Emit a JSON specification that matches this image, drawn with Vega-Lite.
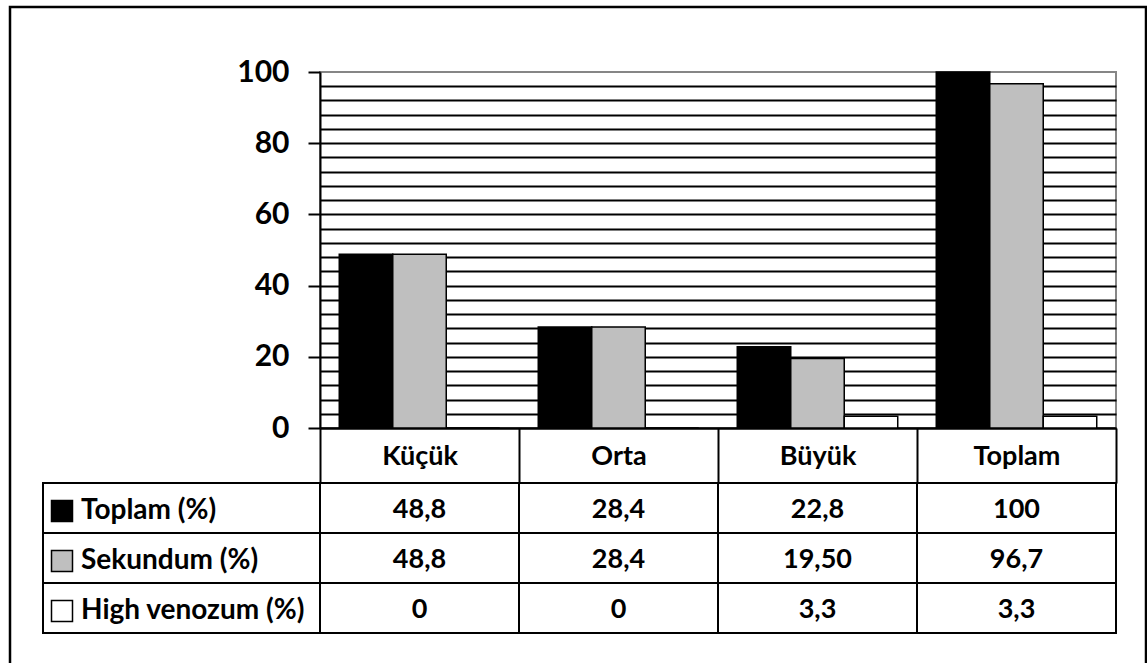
{
  "$schema": "https://vega.github.io/schema/vega-lite/v6.json",
  "padding": {"left": 8, "top": 5, "right": 0, "bottom": -6},
  "columns": 2,
  "spacing": {"row": 55, "column": 0},
  "bounds": "flush",
  "datasets": {
    "bars": [
      {"cat": "Küçük", "series": "Toplam (%)", "value": 48.8, "label": "48,8"},
      {"cat": "Küçük", "series": "Sekundum (%)", "value": 48.8, "label": "48,8"},
      {"cat": "Küçük", "series": "High venozum (%)", "value": 0, "label": "0"},
      {"cat": "Orta", "series": "Toplam (%)", "value": 28.4, "label": "28,4"},
      {"cat": "Orta", "series": "Sekundum (%)", "value": 28.4, "label": "28,4"},
      {"cat": "Orta", "series": "High venozum (%)", "value": 0, "label": "0"},
      {"cat": "Büyük", "series": "Toplam (%)", "value": 22.8, "label": "22,8"},
      {"cat": "Büyük", "series": "Sekundum (%)", "value": 19.5, "label": "19,50"},
      {"cat": "Büyük", "series": "High venozum (%)", "value": 3.3, "label": "3,3"},
      {"cat": "Toplam", "series": "Toplam (%)", "value": 100, "label": "100"},
      {"cat": "Toplam", "series": "Sekundum (%)", "value": 96.7, "label": "96,7"},
      {"cat": "Toplam", "series": "High venozum (%)", "value": 3.3, "label": "3,3"}
    ],
    "rows": [
      {"series": "Toplam (%)"},
      {"series": "Sekundum (%)"},
      {"series": "High venozum (%)"}
    ]
  },
  "concat": [
    {
      "width": 277,
      "height": 356,
      "data": {"values": []},
      "mark": "point",
      "encoding": {},
      "view": {"stroke": null}
    },
    {
      "width": 796,
      "height": 356,
      "data": {"name": "bars"},
      "mark": {"type": "bar", "strokeWidth": 1.5},
      "encoding": {
        "x": {
          "field": "cat", "type": "nominal",
          "sort": ["Küçük", "Orta", "Büyük", "Toplam"],
          "scale": {"paddingInner": 0, "paddingOuter": 0},
          "axis": {
            "title": null, "orient": "bottom",
            "domainColor": "black", "domainWidth": 2,
            "tickBand": "extent", "tickSize": 55, "tickWidth": 2, "tickColor": "black",
            "labelAngle": 0, "labelFont": "Lato", "labelFontSize": 27, "labelFontWeight": "bold",
            "labelColor": "black", "labelBaseline": "middle", "labelPadding": -27
          }
        },
        "xOffset": {
          "field": "series", "type": "nominal",
          "sort": ["Toplam (%)", "Sekundum (%)", "High venozum (%)"],
          "scale": {"paddingInner": 0, "paddingOuter": 0.36}
        },
        "y": {
          "field": "value", "type": "quantitative",
          "scale": {"domain": [0, 100], "nice": false},
          "axis": {
            "title": null,
            "values": [0, 4, 8, 12, 16, 20, 24, 28, 32, 36, 40, 44, 48, 52, 56, 60, 64, 68, 72, 76, 80, 84, 88, 92, 96, 100],
            "labelExpr": "datum.value % 20 === 0 ? datum.label : ''",
            "grid": true,
            "gridColor": {"condition": {"test": "datum.value === 100", "value": "transparent"}, "value": "black"},
            "gridWidth": 2,
            "tickColor": {"condition": {"test": "datum.value % 20 === 0", "value": "black"}, "value": "transparent"},
            "tickSize": 12, "tickWidth": 2,
            "domainColor": "black", "domainWidth": 2,
            "labelFont": "Lato", "labelFontSize": 30, "labelFontWeight": "bold", "labelColor": "black",
            "labelPadding": 19
          }
        },
        "fill": {
          "field": "series", "type": "nominal",
          "scale": {"domain": ["Toplam (%)", "Sekundum (%)", "High venozum (%)"], "range": ["#000000", "#bfbfbf", "#ffffff"]},
          "legend": {
            "orient": "none", "legendX": 5, "legendY": 425, "title": null, "padding": 0,
            "direction": "vertical",
            "symbolType": "square", "symbolSize": 441, "symbolStrokeColor": "black", "symbolStrokeWidth": 1.5,
            "labelFont": "Lato", "labelFontSize": 28, "labelFontWeight": "bold", "labelColor": "black",
            "labelOffset": 5, "labelLimit": 400, "rowPadding": 22
          }
        },
        "stroke": {
          "field": "value", "type": "quantitative",
          "scale": {"range": ["#000000", "#000000"]},
          "legend": {
            "type": "gradient", "orient": "none", "legendX": -33, "legendY": -65,
            "direction": "horizontal", "gradientLength": 1136, "gradientThickness": 661,
            "gradientOpacity": 0, "gradientStrokeWidth": 0, "labels": false, "values": [], "title": null,
            "padding": 0, "strokeColor": "black",
            "encode": {"legend": {"update": {"strokeWidth": {"value": 2.5}}}}
          }
        }
      },
      "view": {"stroke": "#868686", "strokeWidth": 2}
    },
    {
      "width": 277,
      "height": 150,
      "data": {"name": "rows"},
      "mark": {"type": "rect", "fill": "white", "stroke": "black", "strokeWidth": 2},
      "encoding": {
        "y": {
          "field": "series", "type": "nominal",
          "sort": ["Toplam (%)", "Sekundum (%)", "High venozum (%)"],
          "scale": {"paddingInner": 0, "paddingOuter": 0},
          "axis": null
        }
      },
      "view": {"stroke": null}
    },
    {
      "width": 796,
      "height": 150,
      "data": {"name": "bars"},
      "encoding": {
        "x": {
          "field": "cat", "type": "nominal",
          "sort": ["Küçük", "Orta", "Büyük", "Toplam"],
          "scale": {"paddingInner": 0, "paddingOuter": 0},
          "axis": null
        },
        "y": {
          "field": "series", "type": "nominal",
          "sort": ["Toplam (%)", "Sekundum (%)", "High venozum (%)"],
          "scale": {"paddingInner": 0, "paddingOuter": 0},
          "axis": null
        }
      },
      "layer": [
        {"mark": {"type": "rect", "fill": "white", "stroke": "black", "strokeWidth": 2}},
        {
          "mark": {"type": "text", "font": "Lato", "fontSize": 27, "fontWeight": "bold", "color": "black", "baseline": "middle", "dy": 2},
          "encoding": {"text": {"field": "label"}}
        }
      ],
      "view": {"stroke": null}
    }
  ]
}
